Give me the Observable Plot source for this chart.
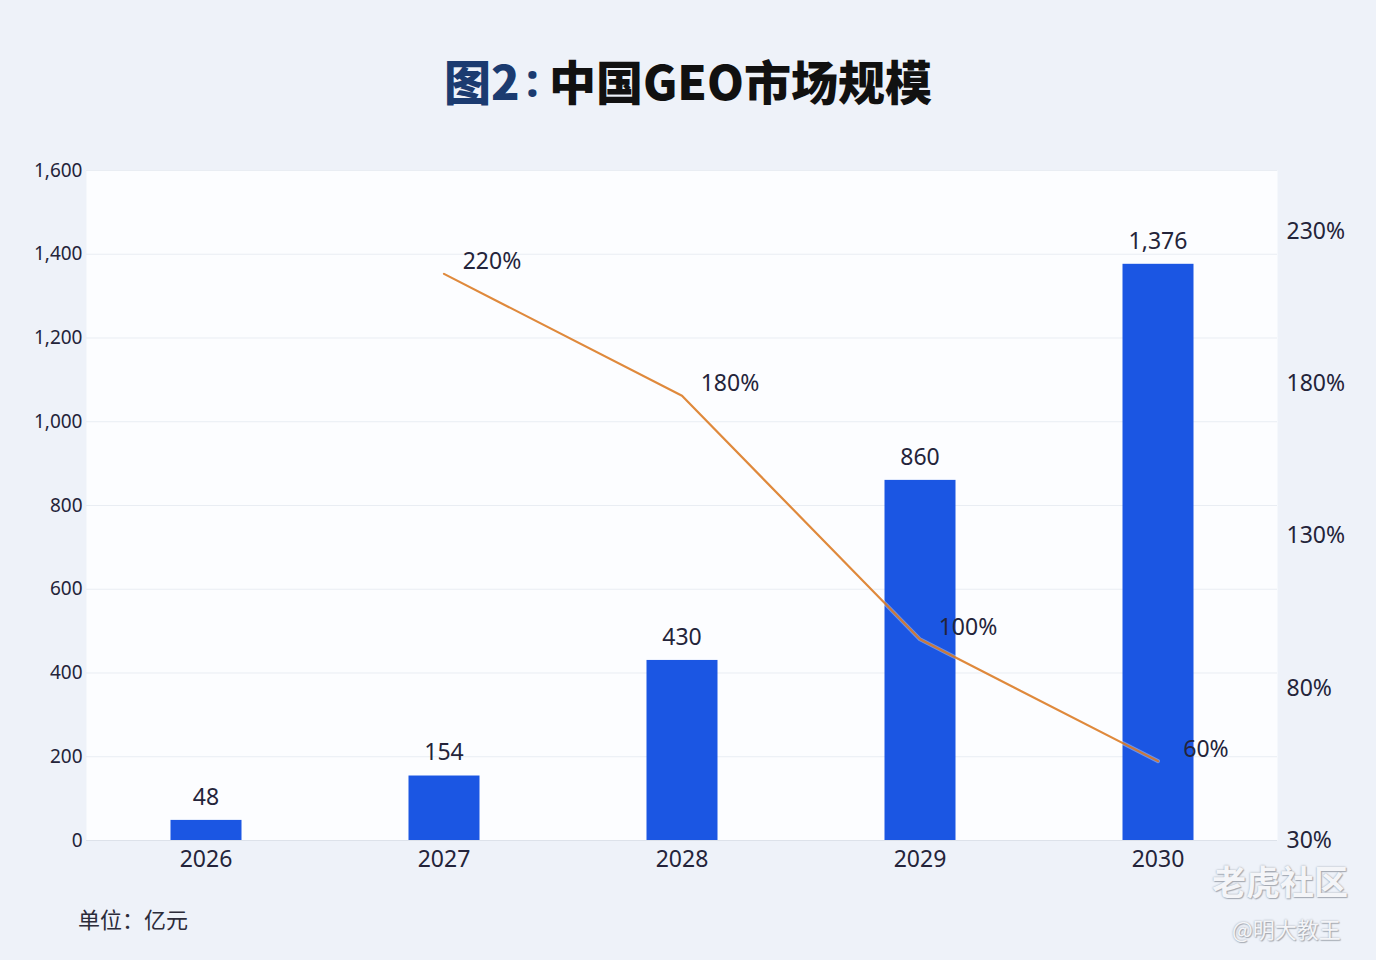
<!DOCTYPE html>
<html>
<head>
<meta charset="utf-8">
<script src="https://cdn.jsdelivr.net/npm/d3@7"></script>
<script src="https://cdn.jsdelivr.net/npm/@observablehq/plot@0.6"></script>
<style>
  html, body { margin: 0; padding: 0; }
  body {
    width: 1376px; height: 960px; position: relative; overflow: hidden;
    background: #eef2f9;
    font-family: "Noto Sans", "Noto Sans CJK SC", sans-serif;
  }
  #title {
    height: 150px; display: flex; align-items: center; justify-content: center;
    font-family: "Noto Sans CJK SC", sans-serif; font-weight: 900; font-size: 47px;
    color: #111; padding-top: 8px; box-sizing: border-box;
  }
  #title .hl { color: #1b3b70; }
  #title .colon { color: #1b3b70; font-family: "Noto Sans", sans-serif; font-weight: 700; margin: 0 10px 0 6px; }
  #chart { position: absolute; left: 0; top: 150px; }
  #unit {
    position: absolute; left: 78px; top: 902px; font-size: 22px; color: #2c2c3a;
    font-family: "Noto Sans CJK SC", sans-serif;
  }
  #wm1 {
    position: absolute; left: 1212px; top: 856px; font-size: 34px; font-weight: 700;
    color: #f4f5f8; text-shadow: 0 0 2px #9aa0aa, 1px 1px 1px #a8adb6;
    font-family: "Noto Sans CJK SC", sans-serif;
  }
  #wm2 {
    position: absolute; left: 1232px; top: 912px; font-size: 22px;
    color: #f4f5f8; text-shadow: 0 0 2px #9aa0aa, 1px 1px 1px #a8adb6;
    font-family: "Noto Sans CJK SC", sans-serif;
  }
</style>
</head>
<body>
<div id="title"><span class="hl">图2</span><span class="colon">:</span><span>中国GEO市场规模</span></div>
<div id="chart"></div>
<div id="unit">单位：亿元</div>
<div id="wm1">老虎社区</div>
<div id="wm2">@明大教王</div>
<script>
const years = ["2026", "2027", "2028", "2029", "2030"];
const marketSize = [48, 154, 430, 860, 1376];
const growthYears = ["2027", "2028", "2029", "2030"];
const growthRates = [220, 180, 100, 60];
const leftTicks = [0, 200, 400, 600, 800, 1000, 1200, 1400, 1600];
const rightTicks = [30, 80, 130, 180, 230];
const rightDomain = [30, 250];

const leftMax = 1600;
const pctToY = p => (p - rightDomain[0]) * leftMax / (rightDomain[1] - rightDomain[0]);
const yToPct = v => Math.round(v * (rightDomain[1] - rightDomain[0]) / leftMax + rightDomain[0]);

const bars = years.map((y, i) => ({year: y, value: marketSize[i]}));
const growth = growthYears.map((y, i) => ({year: y, rate: growthRates[i], yv: pctToY(growthRates[i])}));

const textColor = "#24243a";

const chart = Plot.plot({
  width: 1376,
  height: 740,
  marginLeft: 86,
  marginRight: 99,
  marginTop: 20,
  marginBottom: 50,
  style: {background: "transparent", fontFamily: "'Noto Sans', sans-serif", fontSize: "19px", color: textColor},
  x: {domain: years, paddingInner: 0.7, paddingOuter: 0.35, axis: null},
  y: {domain: [0, leftMax], axis: null},
  marks: [
    Plot.frame({fill: "#fcfdff", stroke: "none"}),
    Plot.gridY(leftTicks, {stroke: "#e9edf3", strokeOpacity: 1}),
    Plot.ruleY([0], {stroke: "#dde2ea"}),
    Plot.barY(bars, {x: "year", y: "value", fill: "#1b56e3", dx: 0.5}),
    Plot.line(growth, {x: "year", y: "yv", stroke: "#ffffff", strokeWidth: 4, strokeOpacity: 0.35, dy: 12}),
    Plot.line(growth, {x: "year", y: "yv", stroke: "#d9741a", strokeWidth: 2.2, strokeOpacity: 0.85, dy: 12}),
    Plot.text(bars, {x: "year", y: "value", text: d => d3.format(",")(d.value), dy: -23, fontSize: 23, fill: textColor}),
    Plot.text(growth, {x: "year", y: "yv", text: d => d.rate + "%", dx: 48, dy: 0, fontSize: 23, fill: textColor}),
    Plot.axisY({ticks: leftTicks, tickFormat: d3.format(","), tickSize: 0, tickPadding: 4, fontSize: 19, label: null, fill: textColor}),
    Plot.axisY({anchor: "right", ticks: rightTicks.map(pctToY), tickFormat: v => yToPct(v) + "%", tickSize: 0, tickPadding: 9, fontSize: 23, label: null, fill: textColor}),
    Plot.axisX({tickSize: 0, tickPadding: 10, fontSize: 23, label: null, fill: textColor})
  ]
});
document.getElementById("chart").appendChild(chart);
</script>
</body>
</html>
